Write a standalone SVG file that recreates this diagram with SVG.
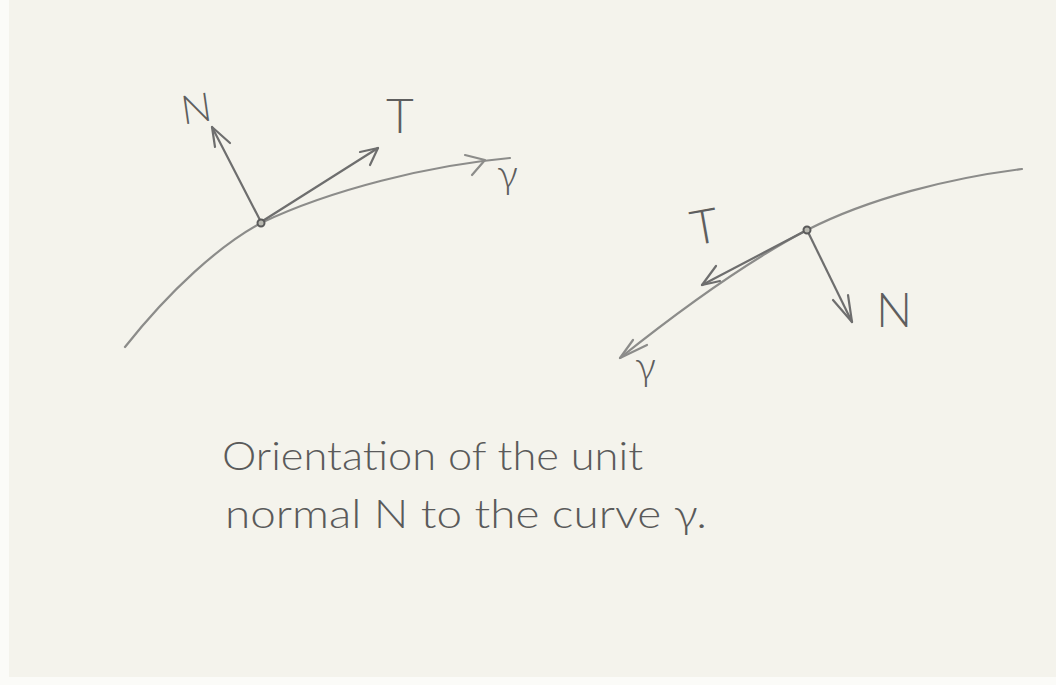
<svg xmlns="http://www.w3.org/2000/svg" width="1056" height="685" viewBox="0 0 1056 685">
<style>
.curve{fill:none;stroke:#8c8c8a;stroke-width:2.2;stroke-linecap:round;stroke-linejoin:round}
.vec{fill:none;stroke:#6e6e6e;stroke-width:2.2;stroke-linecap:round;stroke-linejoin:round}
.dot{fill:#b8b8b0;stroke:#5a5a5a;stroke-width:2}
.lbl{font-family:Lato,"Open Sans","Liberation Sans",sans-serif;font-weight:300;fill:#5e5e5e}
.cap{font-family:Lato,"Open Sans","Liberation Sans",sans-serif;font-weight:300;fill:#5a5a5a;font-size:40px}
</style>
<rect x="0" y="0" width="1056" height="685" fill="#f4f3ec"/>
<rect x="0" y="0" width="9" height="685" fill="#fbfbf8"/>
<rect x="0" y="677" width="1056" height="8" fill="#fbfbf8"/>

<g id="left-figure">
  <g id="left-curve">
    <path class="curve" d="M125,347 C170,290 220,245 261,223 C330,190 430,165 510,158"/>
    <polyline class="curve" points="465,155 485,160 472,175"/>
    <text class="lbl" x="497" y="188" font-size="40">γ</text>
  </g>
  <g id="left-T">
    <line class="vec" x1="261" y1="222" x2="378" y2="148"/>
    <polyline class="vec" points="360,152 378,148 370,165"/>
    <text class="lbl" x="386" y="133" font-size="48">T</text>
  </g>
  <g id="left-N">
    <line class="vec" x1="261" y1="222" x2="212" y2="127"/>
    <polyline class="vec" points="215,147 212,127 230,143"/>
    <text class="lbl" x="181" y="123" font-size="40" transform="rotate(-8 192 108)">N</text>
  </g>
  <circle class="dot" cx="261" cy="223" r="3.5"/>
</g>

<g id="right-figure">
  <g id="right-curve">
    <path class="curve" d="M620,358 C680,310 750,260 807,230 C870,198 950,178 1022,169"/>
    <polyline class="curve" points="633,340 620,358 647,345"/>
    <text class="lbl" x="635" y="380" font-size="40">γ</text>
  </g>
  <g id="right-T">
    <line class="vec" x1="807" y1="230" x2="702" y2="285"/>
    <polyline class="vec" points="716,266 702,285 720,281"/>
    <text class="lbl" x="690" y="243" font-size="48" transform="rotate(-10 708 223)">T</text>
  </g>
  <g id="right-N">
    <line class="vec" x1="807" y1="230" x2="852" y2="322"/>
    <polyline class="vec" points="833,300 852,322 848,295"/>
    <text class="lbl" x="876" y="327" font-size="48">N</text>
  </g>
  <circle class="dot" cx="807" cy="230" r="3.5"/>
</g>

<g id="caption">
  <text class="cap" x="222" y="470" textLength="421" lengthAdjust="spacingAndGlyphs">Orientation of the unit</text>
  <text class="cap" x="225" y="528" textLength="482" lengthAdjust="spacingAndGlyphs">normal N to the curve γ.</text>
</g>
</svg>
